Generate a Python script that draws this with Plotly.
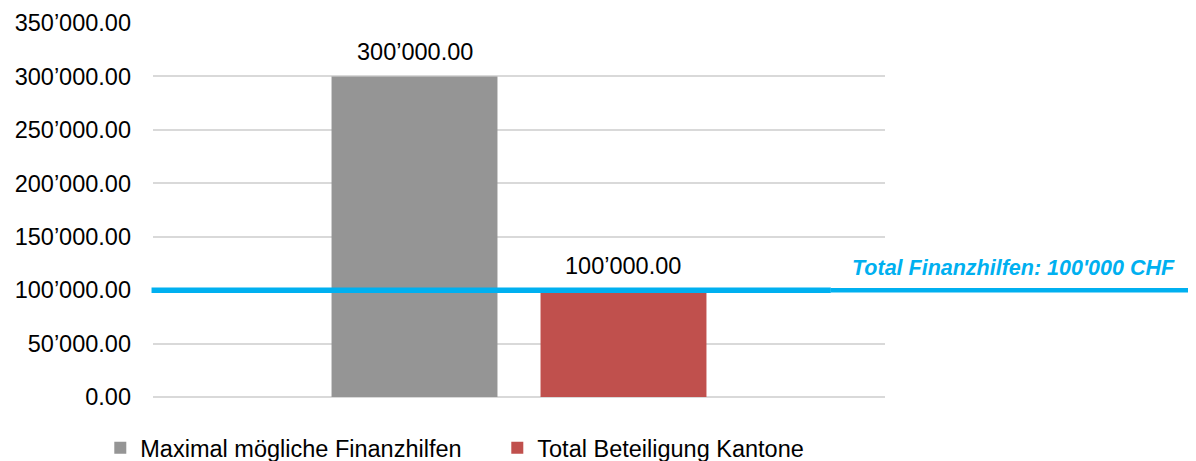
import plotly.graph_objects as go

categories = ["Finanzhilfen"]
series_names = ["Maximal mögliche Finanzhilfen", "Total Beteiligung Kantone"]
values_max = [300000]
values_kantone = [100000]
bar_labels_max = ["300’000.00"]
bar_labels_kantone = ["100’000.00"]
tick_vals = [0, 50000, 100000, 150000, 200000, 250000, 300000, 350000]
tick_text = ["0.00", "50’000.00", "100’000.00", "150’000.00", "200’000.00",
             "250’000.00", "300’000.00", "350’000.00"]
total_line_value = 100000
total_line_label = "Total Finanzhilfen: 100'000 CHF"

FONT = "Arial, 'Liberation Sans', sans-serif"
FS = 23.5
GRAY = "#959595"
RED = "#C0504D"
BLUE = "#00B0F0"

fig = go.Figure()
fig.add_trace(go.Bar(x=categories, y=values_max, name=series_names[0],
                     marker=dict(color=GRAY, line=dict(width=0))))
fig.add_trace(go.Bar(x=categories, y=values_kantone, name=series_names[1],
                     marker=dict(color=RED, line=dict(width=0))))

# value labels above bars
for vals, labels, shift in [(values_max, bar_labels_max, -104),
                            (values_kantone, bar_labels_kantone, 104)]:
    for c, v, t in zip(categories, vals, labels):
        fig.add_annotation(x=c, y=v, text=t, showarrow=False, xref="x", yref="y",
                           xshift=shift, yshift=9.5, yanchor="bottom", xanchor="center",
                           font=dict(family=FONT, size=FS, color="#000000"))

# total line (extends beyond plot area)
fig.add_shape(type="line", xref="paper", yref="y", x0=-0.002, x1=0.926,
              y0=total_line_value, y1=total_line_value,
              line=dict(color=BLUE, width=5.5), layer="above")
fig.add_shape(type="line", xref="paper", yref="y", x0=0.926, x1=1.43,
              y0=total_line_value, y1=total_line_value,
              line=dict(color=BLUE, width=4.5), layer="above")
fig.add_annotation(x=1.176, y=total_line_value, xref="paper", yref="y",
                   text="<b><i>" + total_line_label + "</i></b>", showarrow=False,
                   xanchor="center", yanchor="bottom", yshift=8,
                   font=dict(family=FONT, size=21.5, color=BLUE))

fig.update_layout(
    width=1188, height=453, autosize=False,
    margin=dict(l=145, r=311, t=15, b=64, autoexpand=False),
    paper_bgcolor="white", plot_bgcolor="white",
    barmode="group", bargap=0.429, bargroupgap=0.206,
    font=dict(family=FONT, size=FS, color="#000000"),
    showlegend=True,
    legend=dict(orientation="h", x=-0.072, xanchor="left", y=-0.0775, yanchor="top",
                font=dict(family=FONT, size=FS, color="#000000"),
                entrywidth=352, entrywidthmode="pixels",
                itemwidth=30, bgcolor="rgba(0,0,0,0)"),
)
fig.update_xaxes(showticklabels=False, showgrid=False, zeroline=False, showline=False,
                 ticks="")
fig.update_yaxes(range=[0, 350000], tickvals=tick_vals, ticktext=tick_text,
                 showgrid=True, gridcolor="#D9D9D9", gridwidth=2,
                 zeroline=True, zerolinecolor="#D9D9D9", zerolinewidth=2,
                 showline=False, ticks="", ticklabelstandoff=21,
                 tickfont=dict(family=FONT, size=FS, color="#000000"))

fig.write_html("out.html")
